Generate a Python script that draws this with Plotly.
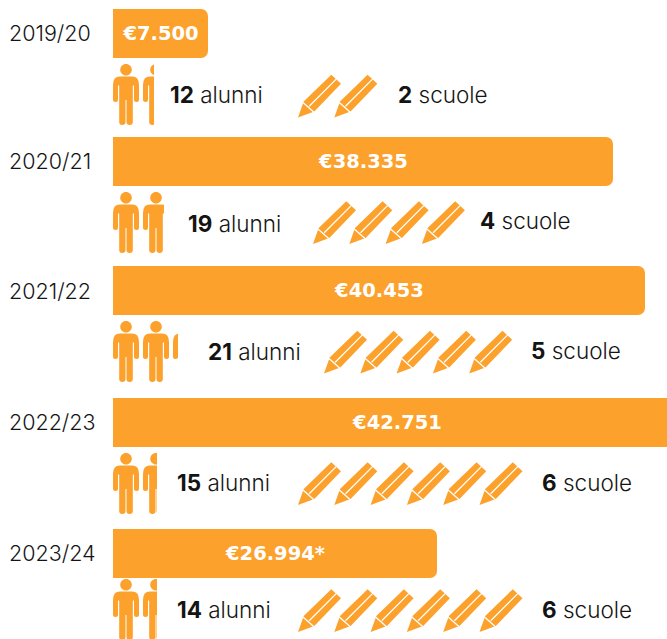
import plotly.graph_objects as go

# Data
years = ["2019/20", "2020/21", "2021/22", "2022/23", "2023/24"]
amount_labels = ["€7.500", "€38.335", "€40.453", "€42.751", "€26.994*"]
bar_lengths = [95, 500, 532, 568, 324]  # as drawn (not strictly proportional in the source)
students = [12, 19, 21, 15, 14]
schools = [2, 4, 5, 6, 6]

# Layout constants
W, H = 667, 639
X0 = 113
ORANGE = "#FCA12C"
INK = "#141414"
FONT = "Inter"
bar_rows = [33.5, 161.5, 290.5, 422.5, 553.5]
year_rows = [33, 161, 291, 422, 553]
person_tops = [64, 192, 321, 453, 579]
person_clip_px = [41, 51, 65, 44, 44]
alunni_x = [168, 186, 206, 175, 175]
alunni_y = [94, 223, 351, 482, 609]
pencil_x = [298, 313, 324, 298, 298]
pencil_tip_y = [117.5, 244, 373.5, 505, 632]
scuole_x = [396, 478, 529, 540, 540]
scuole_y = [94, 220, 350, 482, 609]
PERSON_STEP = 30
PENCIL_STEP = 36.3


def px(x):
    return x - X0


def path(cmds, dx, dy):
    out = []
    for c, *pts in cmds:
        s = c
        for (a, b) in pts:
            s += f" {px(a + dx):.2f},{b + dy:.2f}"
        out.append(s)
    return " ".join(out)


PERSON = [
    ("M", (7, 12.6)), ("L", (19, 12.6)), ("Q", (26, 12.6), (26, 21)), ("L", (26, 35.5)),
    ("Q", (26, 38), (23.5, 38)), ("Q", (21, 38), (21, 35.5)), ("L", (21, 22)),
    ("Q", (20.4, 20.6), (19.8, 22)), ("L", (19.8, 58)), ("Q", (19.8, 61), (16.7, 61)),
    ("Q", (13.5, 61), (13.5, 58)), ("L", (13.5, 36)), ("L", (12.5, 36)), ("L", (12.5, 58)),
    ("Q", (12.5, 61), (9.4, 61)), ("Q", (6.2, 61), (6.2, 58)), ("L", (6.2, 22)),
    ("Q", (5.6, 20.6), (5, 22)), ("L", (5, 35.5)), ("Q", (5, 38), (2.5, 38)),
    ("Q", (0, 38), (0, 35.5)), ("L", (0, 21)), ("Q", (0, 12.6), (7, 12.6)), ("Z",),
]
HEAD = [
    ("M", (7.2, 5.8)), ("C", (7.2, 2.6), (9.8, 0), (13, 0)), ("C", (16.2, 0), (18.8, 2.6), (18.8, 5.8)),
    ("C", (18.8, 9), (16.2, 11.6), (13, 11.6)), ("C", (9.8, 11.6), (7.2, 9), (7.2, 5.8)), ("Z",),
]
PENCIL = [
    ("M", (0, 0)), ("L", (5.7, -16)), ("L", (33.3, -42.8)), ("L", (43, -33.8)),
    ("L", (16.3, -6)), ("Z",),
]
PENCIL_CUTS = [
    ("M", (5.0, -15)), ("L", (16.8, -4.5)),
    ("M", (11.2, -11.2)), ("L", (38.2, -38.4)),
]

shapes = []
for i, n in enumerate(students):
    top = person_tops[i]
    for k in range(n // 10 + (1 if n % 10 else 0)):
        dx = X0 + k * PERSON_STEP
        for glyph in (PERSON, HEAD):
            shapes.append(dict(type="path", xref="x", yref="y", layer="above",
                               path=path(glyph, dx, top), fillcolor=ORANGE,
                               line=dict(width=0)))
    # partial figure: cover the part of the icon beyond the share being shown
    shapes.append(dict(type="rect", xref="x", yref="y", layer="above",
                       x0=px(X0 + person_clip_px[i]), x1=px(X0 + person_clip_px[i] + 40),
                       y0=top - 1, y1=top + 62, fillcolor="white", line=dict(width=0)))
    for k in range(schools[i]):
        dx = pencil_x[i] + k * PENCIL_STEP
        shapes.append(dict(type="path", xref="x", yref="y", layer="above",
                           path=path(PENCIL, dx, pencil_tip_y[i]), fillcolor=ORANGE,
                           line=dict(width=0)))
        shapes.append(dict(type="path", xref="x", yref="y", layer="above",
                           path=path(PENCIL_CUTS, dx, pencil_tip_y[i]),
                           line=dict(color="white", width=1.3)))

fig = go.Figure(go.Bar(
    x=bar_lengths, y=bar_rows, width=49, orientation="h",
    marker=dict(color=ORANGE, line=dict(width=0), cornerradius=7),
    text=amount_labels, textposition="inside", insidetextanchor="middle",
    textangle=0, constraintext="none", cliponaxis=True,
    insidetextfont=dict(family="DejaVu Sans", size=19.5, color="white", weight=700),
    hoverinfo="skip",
))

ann = []
for i, y in enumerate(years):
    ann.append(dict(x=px(7), y=year_rows[i], text=y, xanchor="left", yanchor="middle",
                    showarrow=False, font=dict(family=FONT, size=21.5, color=INK, weight=300)))
    ann.append(dict(x=px(alunni_x[i]), y=alunni_y[i], text=f"<b>{students[i]}</b> alunni",
                    xanchor="left", yanchor="middle", showarrow=False,
                    font=dict(family=FONT, size=22.5, color=INK, weight=300)))
    ann.append(dict(x=px(scuole_x[i]), y=scuole_y[i], text=f"<b>{schools[i]}</b> scuole",
                    xanchor="left", yanchor="middle", showarrow=False,
                    font=dict(family=FONT, size=22.5, color=INK, weight=300)))

fig.update_layout(
    width=W, height=H, autosize=False,
    margin=dict(l=0, r=0, t=0, b=0, pad=0),
    paper_bgcolor="white", plot_bgcolor="white",
    xaxis=dict(range=[-X0, W - X0], visible=False, fixedrange=True),
    yaxis=dict(range=[H, 0], visible=False, fixedrange=True),
    shapes=shapes, annotations=ann, showlegend=False,
)
fig.write_html("out.html", config=dict(displayModeBar=False),
               post_script="document.body.style.margin='0';document.documentElement.style.overflow='hidden';")
